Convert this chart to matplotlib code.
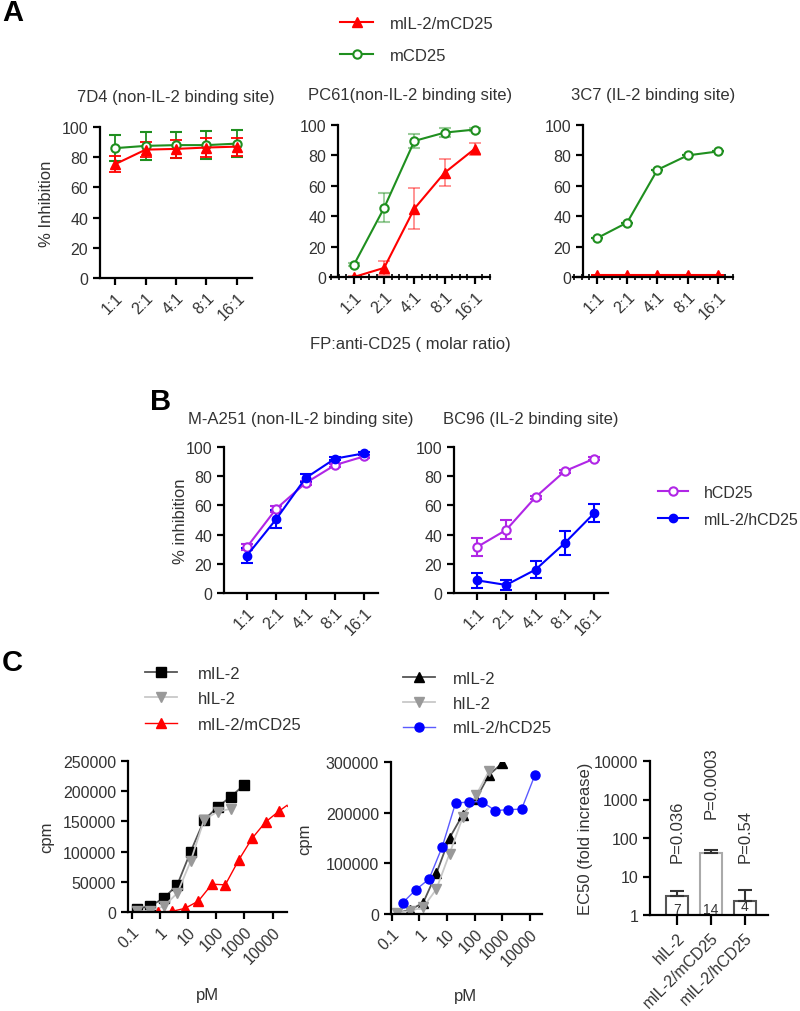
import matplotlib.pyplot as plt
from matplotlib.ticker import FixedLocator, LogLocator, MultipleLocator, NullFormatter

plt.rcParams['font.family'] = ['Liberation Sans', 'DejaVu Sans']
plt.rcParams['text.color'] = '#333333'
plt.rcParams['axes.labelcolor'] = '#333333'
plt.rcParams['xtick.color'] = 'black'
plt.rcParams['ytick.color'] = 'black'
plt.rcParams['xtick.labelcolor'] = '#333333'
plt.rcParams['ytick.labelcolor'] = '#333333'
plt.rcParams['font.size'] = 11.5

W, H = 800, 1012

# ---- data -------------------------------------------------------------
ratios = ['1:1', '2:1', '4:1', '8:1', '16:1']

a_titles = ['7D4 (non-IL-2 binding site)', 'PC61(non-IL-2 binding site)', '3C7 (IL-2 binding site)']
a_mcd25 = [[86, 87.5, 88, 88, 89], [8, 45.5, 89.5, 95, 97], [25.5, 35.8, 70.5, 80, 82.6]]
a_mcd25_err = [[8.5, 9.5, 8.5, 9.5, 9], [1, 9.5, 4.5, 3, 1], [0, 0, 0, 0, 0]]
a_mil2 = [[75.4, 85, 85.5, 86.4, 87], [0, 6, 45, 68.6, 84.4], [1.5, 1.5, 1.5, 1.5, 1.5]]
a_mil2_err = [[5.5, 5, 6, 6, 6], [0.5, 4.5, 13.5, 9, 4], [0, 0, 0, 0, 0]]

b_titles = ['M-A251 (non-IL-2 binding site)', 'BC96 (IL-2 binding site)']
b_hcd25 = [[31.4, 57.7, 75.3, 87.6, 93.6], [31.4, 43.2, 65.7, 83.5, 92]]
b_hcd25_err = [[2, 2, 1.5, 1, 1], [6.3, 6.5, 1, 1, 1]]
b_mil2 = [[25.6, 50.6, 78.7, 92, 95.7], [8.7, 5.5, 16, 34.3, 54.7]]
b_mil2_err = [[5, 6, 3, 1, 1], [5.3, 3.5, 5.7, 8, 6]]

dose_9 = [0.152, 0.457, 1.37, 4.12, 12.3, 37.0, 111, 333, 1000]
dose_8 = [0.152, 0.457, 1.37, 4.12, 12.3, 37.0, 111, 333]
c1_mil2 = [5000, 10000, 23000, 45000, 100000, 152000, 174000, 191000, 211000]
c1_hil2 = [1000, 2000, 9300, 31300, 84000, 153000, 166000, 171000]
c1_mcd25_dose = [0.86, 2.6, 7.7, 23, 70, 209, 627, 1880, 5640, 16900, 50800]
c1_mcd25 = [0, 1000, 6000, 18000, 46000, 45000, 86000, 122000, 149000, 167000, 183000]

c2_mil2 = [2000, 8000, 22000, 80000, 150000, 196000, 227000, 275000, 298000]
c2_hil2 = [2000, 6000, 13000, 49000, 119000, 191000, 234000, 283000]
c2_hcd25_dose = [0.25, 0.75, 2.25, 6.75, 20.3, 60.8, 182, 547, 1640, 4920, 14800]
c2_hcd25 = [22000, 48000, 69000, 133000, 219000, 221000, 222000, 204000, 206000, 207000, 274000]

dose_ticks = [0.1, 1, 10, 100, 1000, 10000]
dose_labels = ['0.1', '1', '10', '100', '1000', '10000']

ec50_names = ['hIL-2', 'mIL-2/mCD25', 'mIL-2/hCD25']
ec50_fold = [3.2, 41, 2.35]
ec50_err = [1.05, 9, 2.15]
ec50_n = ['7', '14', '4']
ec50_p = ['P=0.036', 'P=0.0003', 'P=0.54']

RED = '#ff0000'
GREEN = '#1f8f1f'
PURPLE = '#b026e6'
BLUE = '#0000ff'


def box(left, top, right, bottom):
    return [left / W, 1 - bottom / H, (right - left) / W, (bottom - top) / H]


def style(ax):
    ax.spines['top'].set_visible(False)
    ax.spines['right'].set_visible(False)
    for s in ('left', 'bottom'):
        ax.spines[s].set_linewidth(1.6)
    ax.tick_params(which='major', direction='out', length=5, width=1.6)


fig = plt.figure(figsize=(W / 100, H / 100), dpi=100)

# ---- panel A ----------------------------------------------------------
a_boxes = [(100, 128, 252, 279), (330, 126, 490, 278), (573, 126, 733, 278)]
a_xlim = [(-0.5, 4.5), (-0.79, 4.5), (-0.79, 4.5)]
a_spine = [None, -0.53, -0.46]
x = range(len(ratios))
a_lines = []
for i in range(3):
    ax = fig.add_axes(box(*a_boxes[i]))
    style(ax)
    ea = 0.45 if i == 1 else 1.0
    g = ax.errorbar(x, a_mcd25[i], yerr=a_mcd25_err[i], color=GREEN, marker='o', ms=6,
                    mfc='white', mew=1.5, lw=1.5, capsize=4, elinewidth=1.3, capthick=1.3)
    r = ax.errorbar(x, a_mil2[i], yerr=a_mil2_err[i], color=RED, marker='^', ms=7,
                    lw=1.5, capsize=4, elinewidth=1.3, capthick=1.3)
    for cont in (g, r):
        for art in list(cont[1]) + list(cont[2]):
            art.set_alpha(ea)
    a_lines = [r[0], g[0]]
    ax.set_xlim(*a_xlim[i])
    ax.set_ylim(0, 100)
    ax.set_yticks([0, 20, 40, 60, 80, 100])
    ax.set_xticks(list(x))
    ax.set_xticklabels(ratios, rotation=45, ha='right', rotation_mode='anchor')
    if a_spine[i] is not None:
        ax.spines['left'].set_position(('data', a_spine[i]))
        ax.xaxis.set_minor_locator(MultipleLocator(0.25))
        ax.tick_params(axis='x', which='minor', direction='inout', length=5, width=1.2)
    ax.set_title(a_titles[i], pad=19, fontsize=12)
    if i == 0:
        ax.set_ylabel('% Inhibition', fontsize=12)
        ax.yaxis.set_label_coords(-0.30, 0.5)

fig.legend(a_lines, ['mIL-2/mCD25', 'mCD25'], loc='upper left',
           bbox_to_anchor=(340 / W, 1 - 17 / H), frameon=False, fontsize=12,
           handlelength=2.0, handletextpad=1.0, labelspacing=1.0, borderpad=0,
           borderaxespad=0)
fig.text(410 / W, 1 - 345 / H, 'FP:anti-CD25 ( molar ratio)', ha='center', va='center', fontsize=12)
fig.text(2 / W, 1 - 13 / H, 'A', fontsize=21, fontweight='bold', color='black', va='center')

# ---- panel B ----------------------------------------------------------
b_boxes = [(224, 448, 378, 594), (454, 448, 608, 594)]
b_lines = []
for i in range(2):
    ax = fig.add_axes(box(*b_boxes[i]))
    style(ax)
    h = ax.errorbar(x, b_hcd25[i], yerr=b_hcd25_err[i], color=PURPLE, marker='o', ms=6,
                    mfc='white', mew=1.5, lw=1.5, capsize=4, elinewidth=1.5, capthick=1.5)
    m = ax.errorbar(x, b_mil2[i], yerr=b_mil2_err[i], color=BLUE, marker='o', ms=6,
                    lw=1.5, capsize=4, elinewidth=1.5, capthick=1.5)
    b_lines = [h[0], m[0]]
    ax.set_xlim(-0.78, 4.47)
    ax.set_ylim(0, 100)
    ax.set_yticks([0, 20, 40, 60, 80, 100])
    ax.set_xticks(list(x))
    ax.set_xticklabels(ratios, rotation=45, ha='right', rotation_mode='anchor')
    ax.set_title(b_titles[i], pad=17, fontsize=12)
    if i == 0:
        ax.set_ylabel('% inhibition', fontsize=12)
        ax.yaxis.set_label_coords(-0.234, 0.5)

fig.legend(b_lines, ['hCD25', 'mIL-2/hCD25'], loc='upper left',
           bbox_to_anchor=(658 / W, 1 - 486 / H), frameon=False, fontsize=11.5,
           handlelength=1.85, handletextpad=1.0, labelspacing=0.75, borderpad=0,
           borderaxespad=0)
fig.text(150 / W, 1 - 402 / H, 'B', fontsize=21, fontweight='bold', color='black', va='center')

# ---- panel C ----------------------------------------------------------
def dose_axis(ax, xlim):
    style(ax)
    ax.set_xscale('log')
    ax.set_xlim(*xlim)
    ax.xaxis.set_major_locator(FixedLocator(dose_ticks))
    ax.set_xticklabels(dose_labels, rotation=45, ha='right', rotation_mode='anchor')
    ax.xaxis.set_minor_locator(LogLocator(base=10, subs=range(2, 10)))
    ax.xaxis.set_minor_formatter(NullFormatter())
    ax.tick_params(axis='x', which='minor', direction='out', length=3.5, width=1)
    ax.set_xlabel('pM', fontsize=12)
    ax.set_ylabel('cpm', fontsize=12)


ax = fig.add_axes(box(128, 762, 287, 913))
dose_axis(ax, (0.073, 32600))
l1, = ax.plot(dose_9, c1_mil2, color='#555555', marker='s', mfc='black', mec='black', ms=7, lw=1.3)
l2, = ax.plot(dose_8, c1_hil2, color='#c8c8c8', marker='v', mfc='#999999', mec='#999999', ms=7, lw=1.3)
l3, = ax.plot(c1_mcd25_dose, c1_mcd25, color=RED, marker='^', ms=6.5, lw=1.0)
ax.set_ylim(0, 250000)
ax.set_yticks([0, 50000, 100000, 150000, 200000, 250000])
ax.set_yticklabels(['0', '50000', '100000', '150000', '200000', '250000'])
ax.yaxis.set_label_coords(-0.465, 0.5)
ax.xaxis.set_label_coords(0.497, -0.497)
fig.legend([l1, l2, l3], ['mIL-2', 'hIL-2', 'mIL-2/mCD25'], loc='upper left',
           bbox_to_anchor=(145 / W, 1 - 667 / H), frameon=False, fontsize=12,
           handlelength=1.9, handletextpad=1.3, labelspacing=0.62, borderpad=0,
           borderaxespad=0)

ax = fig.add_axes(box(391, 763, 542, 915))
dose_axis(ax, (0.095, 26800))
m1, = ax.plot(dose_9, c2_mil2, color='#555555', marker='^', mfc='black', mec='black', ms=6.5, lw=1.3)
m2, = ax.plot(dose_8, c2_hil2, color='#c8c8c8', marker='v', mfc='#999999', mec='#999999', ms=7, lw=1.3)
m3, = ax.plot(c2_hcd25_dose, c2_hcd25, color='#5a5aff', marker='o', mfc=BLUE, mec=BLUE, ms=6.5, lw=1.0)
ax.set_ylim(0, 300000)
ax.set_yticks([0, 100000, 200000, 300000])
ax.set_yticklabels(['0', '100000', '200000', '300000'])
ax.yaxis.set_label_coords(-0.523, 0.5)
ax.xaxis.set_label_coords(0.49, -0.49)
fig.legend([m1, m2, m3], ['mIL-2', 'hIL-2', 'mIL-2/hCD25'], loc='upper left',
           bbox_to_anchor=(403 / W, 1 - 672 / H), frameon=False, fontsize=12,
           handlelength=1.9, handletextpad=1.1, labelspacing=0.58, borderpad=0,
           borderaxespad=0)
fig.text(2 / W, 1 - 663 / H, 'C', fontsize=21, fontweight='bold', color='black', va='center')

ax = fig.add_axes(box(650, 762, 768, 916))
style(ax)
pos = range(len(ec50_names))
ax.bar(pos, ec50_fold, width=0.65, color='white', edgecolor=['#555555', '#aaaaaa', '#555555'],
       linewidth=1.5, yerr=[[0, 0, 0], ec50_err], capsize=5,
       error_kw=dict(ecolor='#333333', elinewidth=1.5, capthick=1.5))
ax.set_yscale('log')
ax.set_ylim(1, 10000)
ax.set_xlim(-0.79, 2.68)
ax.set_yticks([1, 10, 100, 1000, 10000])
ax.set_yticklabels(['1', '10', '100', '1000', '10000'])
ax.yaxis.set_minor_locator(LogLocator(base=10, subs=range(2, 10)))
ax.yaxis.set_minor_formatter(NullFormatter())
ax.tick_params(axis='y', which='minor', direction='out', length=3.5, width=1)
ax.tick_params(axis='x', length=7)
ax.set_xticks(list(pos))
ax.set_xticklabels(ec50_names, rotation=45, ha='right', rotation_mode='anchor')
p_y = [24.5, 325, 24.5]
n_y = [1.45, 1.42, 1.75]
for i in pos:
    ax.text(i, p_y[i], ec50_p[i], rotation=90, ha='center', va='bottom', fontsize=12)
    ax.text(i, n_y[i], ec50_n[i], ha='center', va='center', fontsize=10)
ax.set_ylabel('EC50 (fold increase)', fontsize=12)
ax.yaxis.set_label_coords(-0.483, 0.5)

fig.savefig('out.png', dpi=100)
